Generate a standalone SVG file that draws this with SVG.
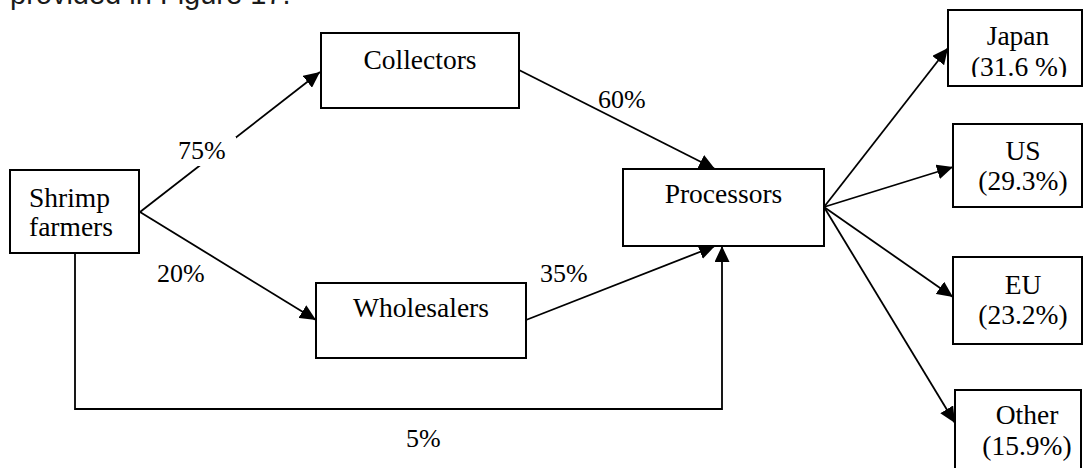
<svg xmlns="http://www.w3.org/2000/svg" width="1084" height="468" viewBox="0 0 1084 468">
  <style>
    .box { fill: #ffffff; stroke: #000000; stroke-width: 2; }
    .lbl { font-family: "Liberation Serif", "Times New Roman", serif; font-size: 26px; fill: #000000; }
    .name { font-family: "Liberation Serif", "Times New Roman", serif; font-size: 27.5px; fill: #000000; }
    .mid { text-anchor: middle; }
    .edge { fill: none; stroke: #000000; stroke-width: 1.8; }
    .body { font-family: "Liberation Sans", Arial, sans-serif; font-size: 29px; fill: #1a1a1a; }
  </style>
  <defs>
    <marker id="arrow" markerUnits="userSpaceOnUse" markerWidth="17" markerHeight="15" refX="16" refY="7.5" orient="auto">
      <path d="M0,0 L16,7.5 L0,15 Z" fill="#000000"/>
    </marker>
    <clipPath id="japanClip">
      <rect x="949" y="11" width="134" height="66"/>
    </clipPath>
  </defs>

  <!-- running text of the page, cut by the top edge -->
  <text class="body" x="10" y="4">provided in Figure 17.</text>

  <!-- connectors -->
  <g id="connectors">
    <line class="edge" x1="140" y1="212" x2="320" y2="72" marker-end="url(#arrow)"/>
    <line class="edge" x1="140" y1="212" x2="316" y2="320" marker-end="url(#arrow)"/>
    <line class="edge" x1="519" y1="70" x2="715" y2="169" marker-end="url(#arrow)"/>
    <line class="edge" x1="526" y1="320" x2="715" y2="246" marker-end="url(#arrow)"/>
    <polyline class="edge" points="75,253 75,409 722,409 722,246" marker-end="url(#arrow)"/>
    <line class="edge" x1="824" y1="207" x2="948" y2="48" marker-end="url(#arrow)"/>
    <line class="edge" x1="824" y1="207" x2="953" y2="167" marker-end="url(#arrow)"/>
    <line class="edge" x1="824" y1="207" x2="953" y2="297" marker-end="url(#arrow)"/>
    <line class="edge" x1="824" y1="207" x2="955" y2="423" marker-end="url(#arrow)"/>
  </g>

  <!-- flow shares -->
  <g id="edge-labels">
    <rect x="172" y="137" width="64" height="29" fill="#ffffff"/>
    <text class="lbl" x="178" y="159">75%</text>
    <text class="lbl" x="598" y="108">60%</text>
    <text class="lbl" x="157" y="282">20%</text>
    <text class="lbl" x="540" y="282">35%</text>
    <text class="lbl" x="406" y="447">5%</text>
  </g>

  <g id="shrimp-farmers">
    <rect class="box" x="10" y="170" width="129" height="83"/>
    <text class="name" x="29" y="207">Shrimp</text>
    <text class="name" x="29" y="236">farmers</text>
  </g>

  <g id="collectors">
    <rect class="box" x="321" y="33" width="198" height="75"/>
    <text class="name mid" x="420" y="69">Collectors</text>
  </g>

  <g id="wholesalers">
    <rect class="box" x="316" y="283" width="210" height="75"/>
    <text class="name mid" x="421" y="317">Wholesalers</text>
  </g>

  <g id="processors">
    <rect class="box" x="623" y="169" width="201" height="77"/>
    <text class="name mid" x="723.5" y="203">Processors</text>
  </g>

  <g id="japan">
    <rect class="box" x="948" y="10" width="134" height="76"/>
    <g clip-path="url(#japanClip)">
      <text class="name mid" x="1018" y="45">Japan</text>
      <text class="name mid" x="1019" y="76">(31.6 %)</text>
    </g>
  </g>

  <g id="us">
    <rect class="box" x="953" y="124" width="129" height="83"/>
    <text class="name mid" x="1023" y="160">US</text>
    <text class="name mid" x="1023" y="190">(29.3%)</text>
  </g>

  <g id="eu">
    <rect class="box" x="953" y="257" width="129" height="87"/>
    <text class="name mid" x="1023" y="294">EU</text>
    <text class="name mid" x="1023" y="324">(23.2%)</text>
  </g>

  <g id="other">
    <rect class="box" x="955" y="390" width="126" height="84"/>
    <text class="name mid" x="1027" y="424">Other</text>
    <text class="name mid" x="1027" y="455">(15.9%)</text>
  </g>
</svg>
